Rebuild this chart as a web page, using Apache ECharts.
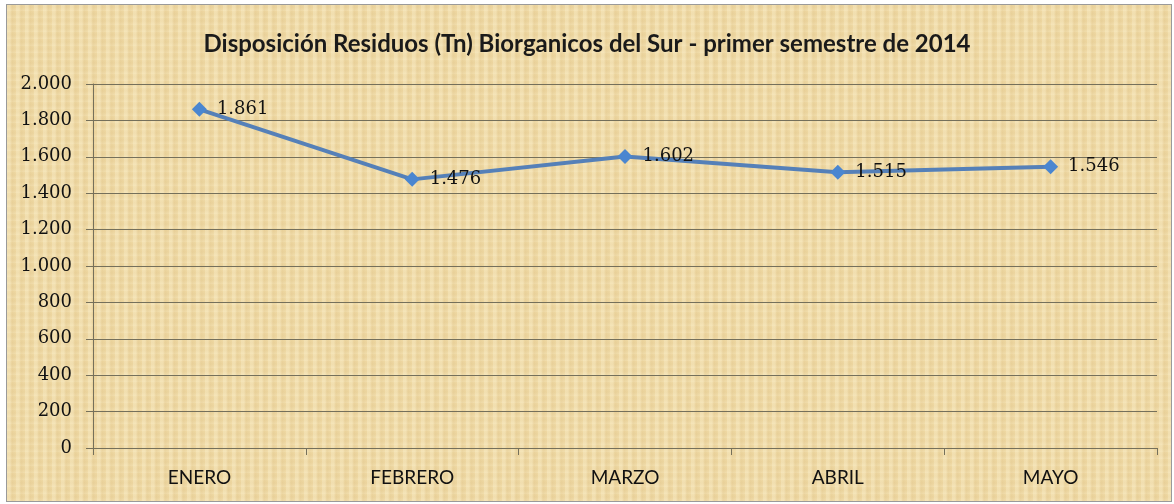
<!DOCTYPE html>
<html>
<head>
<meta charset="utf-8">
<script src="https://cdn.jsdelivr.net/npm/echarts@6/dist/echarts.min.js"></script>
<style>
  html, body { margin: 0; padding: 0; background: #fff; }
  #frame {
    position: absolute; left: 6px; top: 4px; width: 1164px; height: 496px;
    border: 1px solid #9a9a9a;
    background-color: #efd9a4;
    background-image:
      repeating-linear-gradient(90deg, rgba(255,248,220,0.25) 0px, rgba(255,248,220,0.25) 3px, rgba(200,165,100,0.12) 5px, rgba(255,248,220,0) 9px),
      repeating-linear-gradient(0deg, rgba(255,248,220,0.18) 0px, rgba(200,165,100,0.08) 4px, rgba(255,248,220,0) 7px);
  }
  #chart { position: absolute; left: 0; top: 0; width: 1174px; height: 504px; }
</style>
</head>
<body>
<div id="frame"></div>
<div id="chart"></div>
<script>
const meses   = ['ENERO', 'FEBRERO', 'MARZO', 'ABRIL', 'MAYO']
const residuos = [1861, 1476, 1602, 1515, 1546]

// separador de miles con punto
const fmt = v => String(v).replace(/\B(?=(\d{3})+(?!\d))/g, '.')

const chart = echarts.init(document.getElementById('chart'))
chart.setOption({
  backgroundColor: 'transparent',
  animation: false,
  title: {
    text: 'Disposición Residuos (Tn) Biorganicos del Sur - primer semestre de 2014',
    left: 'center', top: 27,
    textStyle: { fontFamily: 'Lato', fontWeight: 'bold', fontSize: 24, color: '#1a1a1a' }
  },
  grid: { left: 93, right: 17, top: 84, bottom: 56 },
  xAxis: {
    type: 'category',
    data: meses,
    axisLine: { lineStyle: { color: '#75705b', width: 1 } },
    axisTick: { show: true, length: 7, lineStyle: { color: '#75705b' } },
    axisLabel: { fontFamily: 'Lato', fontSize: 19, color: '#111', margin: 20 }
  },
  yAxis: {
    type: 'value',
    min: 0, max: 2000, interval: 200,
    axisLine: { show: true, lineStyle: { color: '#75705b' } },
    axisTick: { show: true, length: 7, lineStyle: { color: '#75705b' } },
    splitLine: { lineStyle: { color: '#75705b', width: 1 } },
    axisLabel: {
      fontFamily: 'DejaVu Serif', fontSize: 18, color: '#111', margin: 21,
      formatter: fmt
    }
  },
  series: [{
    type: 'line',
    data: residuos,
    symbol: 'diamond',
    symbolSize: 15,
    lineStyle: { color: '#5580b8', width: 4 },
    itemStyle: { color: '#4a86d0' },
    label: {
      show: true, position: 'right', distance: 10,
      fontFamily: 'DejaVu Serif', fontSize: 18, color: '#111',
      formatter: p => fmt(p.value)
    }
  }]
})
</script>
</body>
</html>
